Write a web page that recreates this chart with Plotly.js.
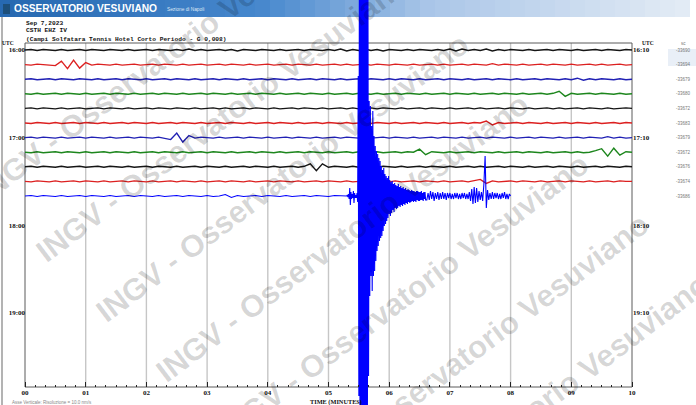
<!DOCTYPE html>
<html><head><meta charset="utf-8">
<script src="https://cdn.plot.ly/plotly-3.0.1.min.js"></script>
<style>html,body{margin:0;padding:0;background:#fff;overflow:hidden}#chart{width:696px;height:405px}</style>
</head><body><div id="chart"></div>
<script>
// ---------------- DATA ----------------
const minuteTicks  = [0,1,2,3,4,5,6,7,8,9,10];
const minuteLabels = ['00','01','02','03','04','05','06','07','08','09','10'];
const hourTickMinutes = [0,60,120,180];
const leftHourLabels  = ['16:00','17:00','18:00','19:00'];
const rightHourLabels = ['16:10','17:10','18:10','19:10'];
const traceStartMinutes = [0,10,20,30,40,50,60,70,80,90,100]; // minutes after 16:00 UTC
const traceColors = ['#151515','#dc2020','#2020b4','#1d861d','#151515','#dc2020','#2020b4','#1d861d','#151515','#dc2020','#0000ff'];
const traceOffsetLabels = ['-33690','-33694','-33679','-33680','-33672','-33683','-33679','-33672','-33676','-33674','-33686'];

const NOISE_STEP = 0.1; // minutes between background samples
const noise0 = [0,1,-1,1,0,-1,1,-1,0,1, -1,1,0,-1,1,0,-1,1,-1,0, 1,-1,1,0,-1,1,-1,2,-1,1, -1,0,1,-1,1,-2,1,0,-1,1, 0,-1,1,-1,0,1,-1,1,0,-1, 1,-1,2,-2,1,-1,2,-1,1,-2, 1,0,-1,1,-1,1,0,-1,1,-1, 2,-2,2,-1,1,-1,2,-2,1,-1, 1,0,-1,1,-1,0,1,-1,1,0, -1,1,-1,0,1,-1,1,0,-1,1, 0];
const noise1 = [0,-1,1,0,-1,-2,7,-8,9,-7, 4,-1,1,0,-1,1,-1,0,1,-1, 0,1,-1,1,0,-1,1,-1,0,1, -1,0,1,-1,1,0,-1,1,-1,0, 1,-1,0,1,-1,1,0,-1,1,-1, 0,1,-1,1,-1,0,1,-1,1,0, -1,1,0,-1,1,-1,0,1,-1,1, -1,0,1,-1,1,0,-1,2,-1,1, 0,-1,1,-1,0,1,-1,1,0,-1, 1,-1,0,1,-1,1,-1,0,1,-1, 0];
const noise2 = [0,1,-1,0,1,-1,1,0,-1,1, 0,-1,1,-1,0,1,-1,1,0,-1, 1,-1,0,1,-1,1,0,-1,1,-1, 0,1,-1,1,0,-1,1,-1,0,1, -1,1,0,-1,1,-1,0,1,-1,1, 0,-1,1,-1,0,1,-1,1,0,-1, 1,-1,1,0,-1,1,-1,0,1,-1, 1,0,-1,1,-1,0,1,-1,1,0, -1,1,-1,0,1,-1,1,0,-1,1, -1,2,-2,1,-1,1,0,-1,1,-1, 0];
const noise3 = [0,-1,1,-1,0,1,-1,1,0,-1, 1,-1,0,1,-1,1,0,-1,1,-1, 0,1,-1,1,0,-1,1,-1,0,1, -1,1,0,-1,1,-1,0,1,-1,1, 0,-1,1,-1,0,1,-1,1,0,-1, 1,-1,0,1,-1,1,0,-1,1,-1, 0,1,-1,1,0,-1,1,-1,0,1, -1,1,0,-1,1,-1,0,1,-1,1, 0,-1,1,-1,0,1,-1,1,5,-5, 1,-1,0,1,-1,1,0,-1,1,-1, 0];
const noise4 = [0,1,-1,1,0,-1,1,-1,0,1, -1,0,1,-1,1,0,-1,1,-1,0, 1,-1,1,0,-1,1,0,-1,1,-1, 0,1,-1,1,-1,0,1,-1,1,0, -1,1,-1,0,1,-1,1,0,-1,1, -1,0,1,-1,1,-1,0,1,-1,1, 0,-1,1,-1,0,1,-1,1,0,-1, 1,-1,0,1,-1,1,-1,0,1,-1, 1,0,-1,1,-1,0,1,-1,1,-1, 0,1,-1,1,0,-1,1,-1,0,1, 0];
const noise5 = [0,-1,1,0,-1,1,-1,0,1,-1, 1,0,-1,1,-1,0,1,-1,1,0, -1,1,-1,0,1,-1,1,0,-1,1, -1,0,1,-1,1,0,-1,1,-1,0, 1,-1,1,0,-1,1,-1,0,1,-1, 1,0,-1,1,-1,0,1,-1,1,0, -1,1,-1,0,1,-1,1,0,-1,1, -1,0,1,-1,1,0,4,-4,1,-1, 0,1,-1,1,0,-1,1,-1,0,1, -1,1,0,-1,1,-1,0,1,-1,1, 0];
const noise6 = [0,1,-1,1,0,-1,1,-1,0,1, -1,1,0,-1,1,-1,0,1,-1,1, 0,-1,1,-1,-4,9,-9,4,-1,1, 0,-1,1,-1,0,1,-1,1,0,-1, 1,-1,0,1,-1,1,0,-1,1,-1, 0,1,-1,1,0,-1,1,-1,0,1, -1,1,0,-1,1,-1,0,1,-1,1, 0,-1,1,-1,0,1,-1,1,0,-1, 1,-1,0,1,-1,1,0,-1,1,-1, 0,1,-1,1,0,-1,2,-1,1,-1, 0];
const noise7 = [0,-1,1,-1,0,1,-1,1,0,-1, 1,-1,0,1,-1,1,0,-1,1,-1, 0,1,-1,1,0,-1,1,-1,0,1, -1,1,0,-1,1,-1,0,1,-1,1, 0,-1,1,-1,0,1,-1,1,0,-1, 1,-1,0,1,-1,1,0,-1,1,-1, 0,1,-1,1,0,6,-5,1,0,-1, 1,-1,0,1,-1,1,0,-1,1,-1, 0,1,-1,1,0,-1,1,-1,0,1, -1,1,-1,0,3,7,-8,8,-6,1, 0];
const noise8 = [0,1,-1,1,0,-1,1,-1,0,1, -1,0,1,-1,1,0,-1,1,-1,0, 1,-1,1,0,-1,1,-1,0,1,-1, 1,0,-1,1,-1,0,1,-1,1,0, -1,1,-1,0,1,-1,1,6,-8,6, -1,1,0,-1,1,-1,0,1,-1,1, 0,-1,1,-1,0,1,-1,1,0,-1, 1,-1,0,1,-1,1,-1,0,1,-1, 1,0,-1,1,-1,0,1,-1,1,0, -1,1,-1,0,1,-1,1,0,-1,1, 0];
const noise9 = [0,-1,1,0,-1,1,-1,0,1,-1, 1,0,-1,1,-1,0,1,-1,1,0, -1,1,-1,0,1,-1,1,0,-1,1, -1,0,1,-1,1,0,-1,1,-1,0, 1,-1,1,0,-1,1,-1,0,1,-1, 1,0,-1,1,-1,0,1,-1,1,0, -1,1,-1,0,1,-1,1,0,-1,1, -1,0,1,-1,1,4,-4,1,-1,0, 1,-1,1,0,-1,1,-1,0,1,-1, 1,0,-1,1,-1,0,1,-1,1,0, 0];
const noise10 = [0,1,-1,1,0,-1,1,-1,0,1, -1,1,0,-1,1,-1,0,1,-1,1, 0,-1,1,-1,0,1,-1,1,0,-1, 1,-1,0,3,-3,1,-1,0,1,-1, 1,0,-1,1,-1,0,1,-1,1,0, -1,1,0];   // 0.0 .. 5.2 min
const noiseTraces = [noise0,noise1,noise2,noise3,noise4,noise5,noise6,noise7,noise8,noise9,noise10];

// Earthquake on the 17:40 line (amplitudes in counts, + = up)
const EVENT_FINE_START = 5.30, EVENT_FINE_STEP = 0.01;
const eventFine = [0,1,-1,2,-3,8,-9,4,-3,2,
  -2,5,-7,3,-2,1,-2,3,-6,120,
  -200,300,-300,300,-300,300,-300,280,-300,250,
  -300,300,-300,300,-280,200,-180,95,-100,90,
  -80,
  70,-95,85,-80,60,-75,50,-65,45,-55,
  42,-50,38,-45,35,-42,30,-40,26,-35,
  28,-30,22,-28,20,-25,18,-22,20,-18,
  16,-20,14,-17,15,-14,12,-16,13,-12,
  11,-13,10,-12,12,-10,9,-11,10,-9,
  8,-10,9,-8,7,-9,8,-7,6,-8,
  7,-6,6,-7,5,-6,6,-5,5,-6,
  5,-5,4,-6,5,-4,5,-5,4,-5,
  4,-4,5,-4,3,-5,4,-3,4,-4];            // 5.30 .. 6.60 min
const EVENT_CODA_START = 6.62, EVENT_CODA_STEP = 0.02;
const eventCoda = [-4,3,-4,5,-3,4,-5,3,-3,4,
  -4,3,-3,4,-3,3,-4,3,-2,3,
  -3,2,-3,3,-2,3,-3,2,-3,3,
  -2,3,-3,2,-3,4,-5,7,-8,9,
  -7,8,-6,5,-4,4,-5,12,40,-12,
  6,-4,3,-3,4,-3,3,-2,3,-3,
  2,-3,3,-2,4,-3,2,-3,2,0];              // 6.62 .. 8.00 min

// ---------------- SCALES ----------------
const PX_PER_MIN_X = 60.7, X0_PX = 25, W = 696, H = 405;
const PX_PER_MIN_Y = 1.46, Y0_PX = 50;
const NOISE_GAIN = 0.5 / PX_PER_MIN_Y;  // background counts -> minutes of row
const EVENT_GAIN = 1.0 / PX_PER_MIN_Y;  // event counts -> minutes of row
const xRange = [-X0_PX / PX_PER_MIN_X, (W - X0_PX) / PX_PER_MIN_X];
const yRange = [(H - Y0_PX) / PX_PER_MIN_Y, -Y0_PX / PX_PER_MIN_Y];
const pxY = p => (p - Y0_PX) / PX_PER_MIN_Y;
const FRAME_TOP = pxY(43), FRAME_BOTTOM = pxY(387);

// ---------------- TRACES ----------------
const data = [];
noiseTraces.forEach((arr, k) => {
  const xs = [], ys = [];
  arr.forEach((v, i) => { xs.push(i * NOISE_STEP); ys.push(traceStartMinutes[k] - v * NOISE_GAIN); });
  if (k === 10) {
    eventFine.forEach((v, i) => { xs.push(EVENT_FINE_START + i * EVENT_FINE_STEP); ys.push(traceStartMinutes[k] - v * EVENT_GAIN); });
    eventCoda.forEach((v, i) => { xs.push(EVENT_CODA_START + i * EVENT_CODA_STEP); ys.push(traceStartMinutes[k] - v * EVENT_GAIN); });
  }
  data.push({type:'scatter', mode:'lines', x:xs, y:ys, hoverinfo:'skip',
    line:{color:traceColors[k], width: k===10 ? 1.1 : 1.4}, showlegend:false});
});
data.push({type:'scatter', mode:'lines', x:[], y:[], yaxis:'y2', showlegend:false, hoverinfo:'skip'});

// ---------------- LAYOUT ----------------
const shapes = [];
function mix(a,b,t){return a.map((v,i)=>Math.round(v+(b[i]-v)*t));}
const stops = [[0,[38,104,176]],[260,[70,135,205]],[430,[170,198,232]],[690,[228,236,245]]];
const NSEG = 46;
for (let i=0;i<NSEG;i++){
  const x0 = i*690/NSEG, x1 = (i+1)*690/NSEG+0.6, xm=(x0+x1)/2;
  let c = stops[stops.length-1][1];
  for (let s=0;s<stops.length-1;s++){ if (xm>=stops[s][0] && xm<=stops[s+1][0]) { c = mix(stops[s][1],stops[s+1][1],(xm-stops[s][0])/(stops[s+1][0]-stops[s][0])); break; } }
  shapes.push({type:'rect', layer:'below', xref:'paper', yref:'paper', x0:x0/W, x1:Math.min(x1,690)/W, y0:1-17/H, y1:1, line:{width:0}, fillcolor:`rgb(${c.join(',')})`});
}
shapes.push({type:'rect', layer:'below', xref:'paper', yref:'paper', x0:3/W, x1:10/W, y0:1-14/H, y1:1-4/H, line:{width:0}, fillcolor:'#1d4f7a'});
shapes.push({type:'line', layer:'below', xref:'paper', yref:'paper', x0:2/W, x1:2/W, y0:0, y1:1-17/H, line:{color:'#9a9a9a', width:1.5}});
shapes.push({type:'rect', layer:'below', xref:'paper', yref:'paper', x0:668/W, x1:1, y0:1-66/H, y1:1-49/H, line:{width:0}, fillcolor:'#e9eff7'});
minuteTicks.slice(1,-1).forEach(m => shapes.push({type:'line', layer:'below', xref:'x', yref:'y', x0:m, x1:m, y0:FRAME_TOP, y1:FRAME_BOTTOM, line:{color:'#c6c6c6', width:1.4}}));
shapes.push({type:'rect', layer:'below', xref:'x', yref:'y', x0:0, x1:10, y0:FRAME_TOP, y1:FRAME_BOTTOM, line:{color:'#5a5a5a', width:1}});

const minorVals = [];
for (let m=0;m<10;m++) for (let j=1;j<6;j++) minorVals.push(m + j/6);

const lblFont = {family:'Liberation Serif, DejaVu Serif, serif', size:7, color:'#111', weight:'bold'};
const annotations = [];
// watermark (tiled, diagonal)
const wm = 'INGV - Osservatorio Vesuviano';
const WM_ANGLE = 37, WM_HALF = 229;
const wmStarts = [[-20,195],[40,255],[100,315],[160,375],[220,435],[280,495],[340,555]];
const ca = Math.cos(WM_ANGLE*Math.PI/180), sa = Math.sin(WM_ANGLE*Math.PI/180);
wmStarts.forEach(([sx,sy]) => annotations.push({xref:'paper', yref:'paper', x:(sx+WM_HALF*ca)/W, y:1-(sy-WM_HALF*sa)/H,
  xanchor:'center', yanchor:'middle', text:wm, showarrow:false, textangle:-WM_ANGLE,
  font:{family:'Liberation Sans, Arial, sans-serif', size:31, color:'rgba(0,0,0,0.16)', weight:'bold'}}));

annotations.push({xref:'paper', yref:'paper', x:12/W, y:1-8.5/H, xanchor:'left', yanchor:'middle', text:'OSSERVATORIO VESUVIANO', showarrow:false,
  font:{family:'Liberation Sans, Arial, sans-serif', size:10.2, color:'#ffffff', weight:'bold'}});
annotations.push({xref:'paper', yref:'paper', x:165/W, y:1-9/H, xanchor:'left', yanchor:'middle', text:'Sezione di Napoli', showarrow:false,
  font:{family:'Liberation Sans, Arial, sans-serif', size:4.8, color:'#dfe8f5'}});
const hdrFont = {family:'Liberation Mono, DejaVu Sans Mono, monospace', size:6.2, color:'#111', weight:'bold'};
[['Sep 7,2023',23],['CSTH EHZ IV',31],['(Campi Solfatara Tennis Hotel Corto Periodo - G 0,008)',39]].forEach(([t,y]) =>
  annotations.push({xref:'paper', yref:'paper', x:24/W, y:1-y/H, xanchor:'left', yanchor:'middle', text:t, showarrow:false, font:hdrFont}));
const utcFont = {family:'Liberation Serif, DejaVu Serif, serif', size:5.5, color:'#111', weight:'bold'};
annotations.push({xref:'paper', yref:'paper', x:0, y:1-42.5/H, xanchor:'left', yanchor:'middle', text:'UTC', showarrow:false, font:utcFont});
annotations.push({xref:'paper', yref:'paper', x:640/W, y:1-42.5/H, xanchor:'left', yanchor:'middle', text:'UTC', showarrow:false, font:utcFont});
annotations.push({xref:'paper', yref:'paper', x:683/W, y:1-44/H, xanchor:'center', yanchor:'middle', text:'sc', showarrow:false,
  font:{family:'Liberation Sans, Arial, sans-serif', size:4.5, color:'#777'}});
traceOffsetLabels.forEach((t,k) => annotations.push({xref:'paper', yref:'y', x:683/W, y:traceStartMinutes[k], xanchor:'center', yanchor:'middle', text:t, showarrow:false,
  font:{family:'Liberation Sans, Arial, sans-serif', size:4.5, color:'#777'}}));
annotations.push({xref:'paper', yref:'paper', x:336/W, y:1-401.5/H, xanchor:'center', yanchor:'middle', text:'TIME (MINUTES)', showarrow:false,
  font:{family:'Liberation Serif, serif', size:6.3, color:'#111', weight:'bold'}});
annotations.push({xref:'paper', yref:'paper', x:10/W, y:1-402/H, xanchor:'left', yanchor:'middle', text:'Asse Verticale: Risoluzione = 10.0 nm/s', showarrow:false,
  font:{family:'Liberation Sans, Arial, sans-serif', size:4.5, color:'#888'}});

const layout = {
  width:W, height:H, margin:{l:0,r:0,t:0,b:0}, paper_bgcolor:'#fff', plot_bgcolor:'rgba(0,0,0,0)', showlegend:false,
  xaxis:{range:xRange, anchor:'free', position:(H-387)/H, showgrid:false, zeroline:false, showline:false, fixedrange:true,
    tickmode:'array', tickvals:minuteTicks, ticktext:minuteLabels, ticks:'inside', ticklen:5, tickwidth:1, tickcolor:'#222',
    tickfont:lblFont, minor:{tickmode:'array', tickvals:minorVals, ticks:'inside', ticklen:2.5, tickwidth:1, tickcolor:'#222', showgrid:false}},
  yaxis:{range:yRange, anchor:'free', position:X0_PX/W, side:'left', showgrid:false, zeroline:false, showline:false, fixedrange:true,
    tickmode:'array', tickvals:hourTickMinutes, ticktext:leftHourLabels, ticks:'', tickfont:lblFont, ticklabelstandoff:0},
  yaxis2:{range:yRange, overlaying:'y', anchor:'free', position:632/W, side:'right', showgrid:false, zeroline:false, showline:false, fixedrange:true,
    tickmode:'array', tickvals:hourTickMinutes, ticktext:rightHourLabels, ticks:'', tickfont:lblFont, ticklabelstandoff:0},
  shapes, annotations
};
Plotly.newPlot('chart', data, layout, {displayModeBar:false, staticPlot:true});
</script></body></html>
